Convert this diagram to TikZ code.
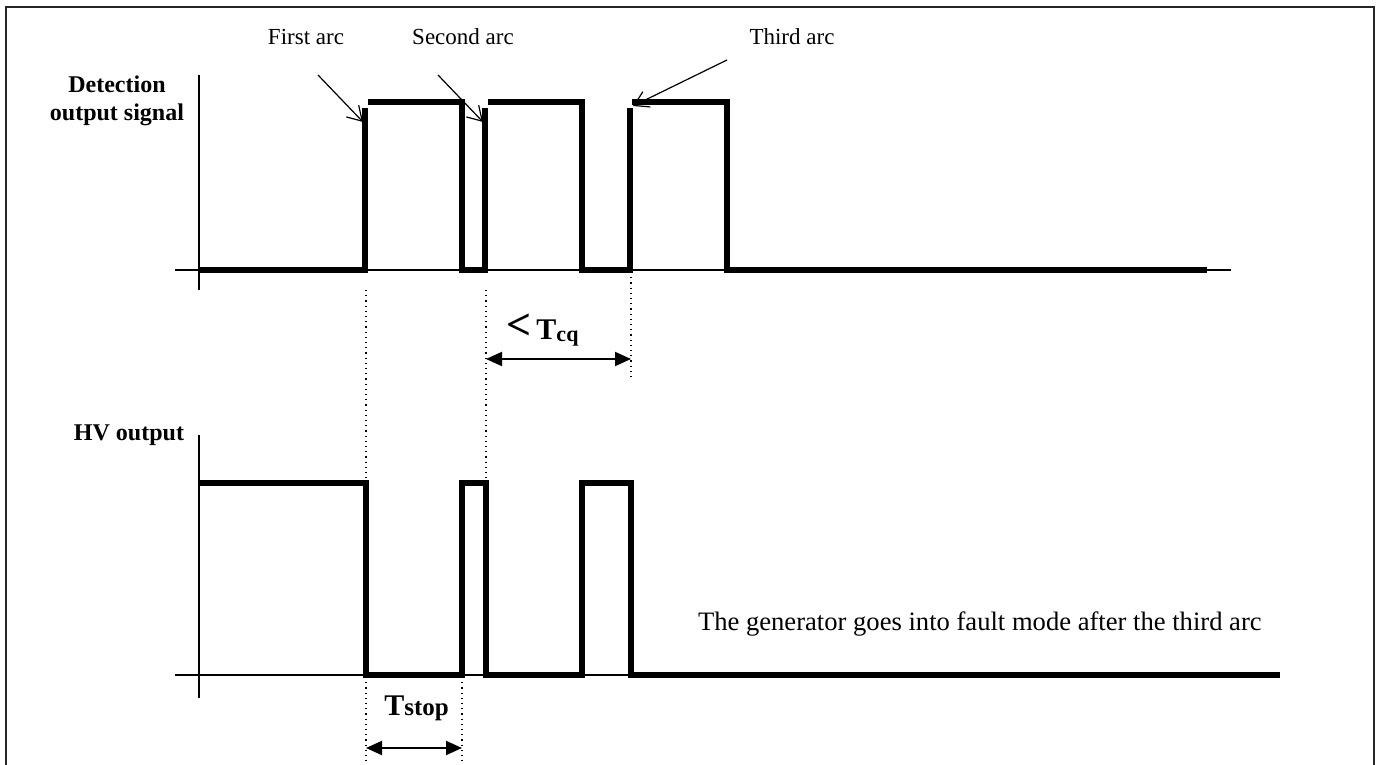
\documentclass[tikz,border=0pt]{standalone}
\usepackage{fontspec}
\setmainfont{Liberation Serif}
\usetikzlibrary{arrows.meta, positioning}

\begin{document}
\begin{tikzpicture}[
    x=0.5pt, y=-0.5pt,
    signal/.style={line width=2.6pt},
    axisline/.style={line width=0.9pt},
    guide/.style={dotted, line width=0.6pt},
    pointer/.style={-{Straight Barb[length=7pt, width=8.5pt]}, line width=0.6pt},
    span/.style={{Triangle[length=8pt, width=7pt]}-{Triangle[length=8pt, width=7pt]}, line width=1pt},
    arclabel/.style={font=\fontsize{11.5}{13}\selectfont, inner sep=0pt},
    axislabel/.style={font=\fontsize{12}{14}\selectfont\bfseries, align=center, inner sep=0pt},
    timelabel/.style={font=\fontsize{15}{17}\selectfont\bfseries, inner sep=0pt}
]
    \useasboundingbox (0,0) rectangle (1378,765);
    % Frame
    \draw[line width=1.1pt, black!85] (6,765) -- (6,7) -- (1374,7) -- (1374,765);

    % Axis labels
    \node[axislabel] (detlabel) at (117,101) {Detection\\output signal};
    \node[axislabel, anchor=base] (hvlabel) at (129,440) {HV output};

    % Axes
    \draw[axisline] (199,75) -- (199,290);
    \draw[axisline] (175,270) -- (1231,270);
    \draw[axisline] (199,435) -- (199,698);
    \draw[axisline] (175,675) -- (1280,675);

    % Detection output signal
    \draw[signal] (199,270) -- (365,270) -- (365,108);
    \draw[signal] (368,102) -- (462,102) -- (462,270) -- (485,270) -- (485,108);
    \draw[signal] (488,102) -- (582,102) -- (582,270) -- (630,270) -- (630,108);
    \draw[signal] (632,102) -- (727,102) -- (727,270) -- (1207,270);

    % HV output
    \draw[signal] (199,483) -- (366,483) -- (366,675) -- (462,675) -- (462,483)
        -- (486,483) -- (486,675) -- (582,675) -- (582,483) -- (631,483)
        -- (631,675) -- (1280,675);

    % Arc labels and pointers
    \node[arclabel, anchor=base] (firstarc) at (306,45) {First arc};
    \node[arclabel, anchor=base] (secondarc) at (463,45) {Second arc};
    \node[arclabel, anchor=base] (thirdarc) at (792,45) {Third arc};
    \coordinate (firstfrom) at (318,75);
    \coordinate (firstto) at (363,122);
    \coordinate (secondfrom) at (438,75);
    \coordinate (secondto) at (483,122);
    \coordinate (thirdfrom) at (727,60);
    \coordinate (thirdto) at (633,106);
    \draw[pointer] (firstfrom) -- (firstto);
    \draw[pointer] (secondfrom) -- (secondto);
    \draw[pointer] (thirdfrom) -- (thirdto);

    % Guides
    \coordinate (stopa) at (366,290);
    \coordinate (stopb) at (366,483);
    \coordinate (stopc) at (366,677);
    \coordinate (stopd) at (366,765);
    \coordinate (cqa) at (486,290);
    \coordinate (cqb) at (486,483);
    \coordinate (cqc) at (631,272);
    \coordinate (cqd) at (631,380);
    \coordinate (stope) at (462,677);
    \coordinate (stopf) at (462,765);
    \draw[guide] (stopa) -- (stopb);
    \draw[guide] (stopc) -- (stopd);
    \draw[guide] (cqa) -- (cqb);
    \draw[guide] (cqc) -- (cqd);
    \draw[guide] (stope) -- (stopf);

    % Time spans
    \coordinate (cqleft) at (486,359);
    \coordinate (cqright) at (631,359);
    \coordinate (stopleft) at (366,748);
    \coordinate (stopright) at (462,748);
    \draw[span] (cqleft) -- (cqright);
    \draw[span] (stopleft) -- (stopright);
    \node[timelabel, anchor=base west] (tcq) at (506,339)
        {{\fontsize{22}{24}\selectfont<}\,T\raisebox{-1.5pt}{\fontsize{11}{12}\selectfont cq}};
    \node[timelabel, anchor=base west] (tstop) at (384,715)
        {T{\fontsize{12.5}{14}\selectfont stop}};

    % Note
    \node[font=\fontsize{13.3}{15}\selectfont, inner sep=0pt, anchor=base east] (faultnote) at (1262,630)
        {The generator goes into fault mode after the third arc};
\end{tikzpicture}
\end{document}
